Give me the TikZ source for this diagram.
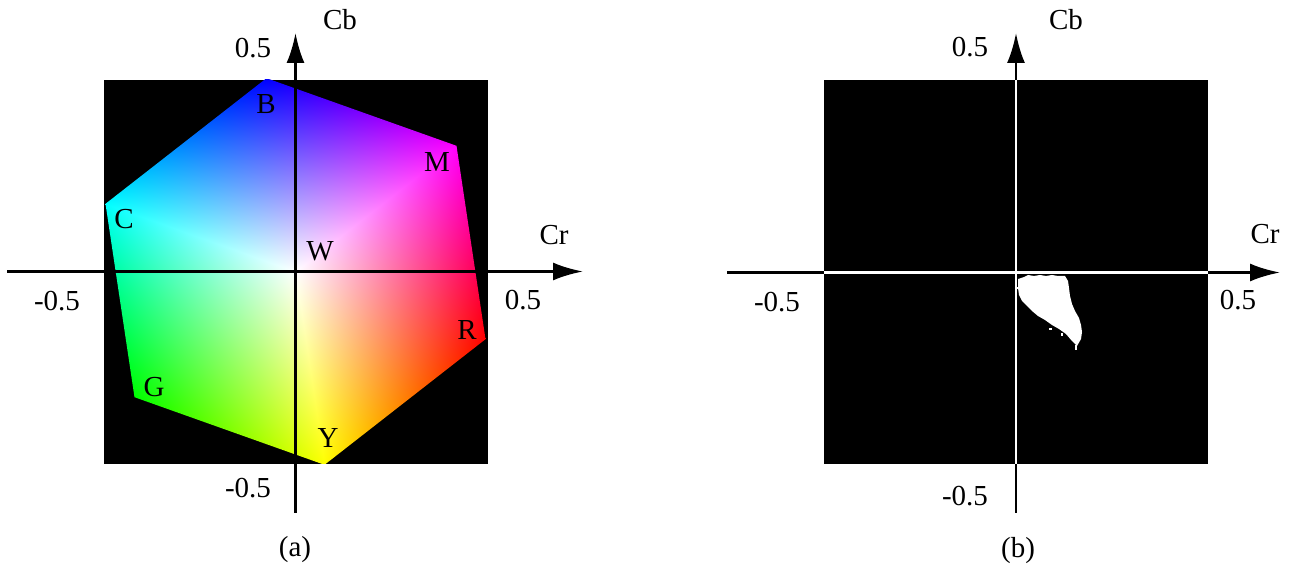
\documentclass[tikz,border=0pt]{standalone}
\usepackage{fontspec}
\setmainfont{Liberation Serif}
\usetikzlibrary{arrows.meta}
% colour of the cube surface seen from the white corner, r=1+min(0,u,v), g=r-v, b=r-u
\pgfdeclarefunctionalshading{cubehex}{\pgfpoint{-50bp}{-50bp}}{\pgfpoint{50bp}{50bp}}{}{
  2 copy 0.0064496 mul exch 0.042256 mul add
  3 1 roll -0.035806 mul exch 0.027478 mul add
  2 copy 2 copy gt {exch} if pop
  dup 0 gt {pop 0} if 1 add
  dup 3 -1 roll sub
  3 1 roll dup 3 -1 roll sub
  exch 3 1 roll exch
}
\tikzstyle{axis} = [draw, line width=1.4pt, -{Latex[length=15pt, width=9pt]}]
\tikzstyle{whiteaxis} = [draw=white, line width=1.4pt]
\tikzstyle{lbl} = [font=\fontsize{14.5}{17}\selectfont, inner sep=0pt]

\begin{document}
\begin{tikzpicture}[x=0.5pt, y=-0.5pt]
        \useasboundingbox (0,0) rectangle (1291,571);

        % (a) projected colour cube
        \fill [black] (104,80) rectangle (488,464);
        \coordinate (W) at (295.5,271.5);
        \coordinate (B) at (266.5,78.2);
        \coordinate (M) at (456.5,145.8);
        \coordinate (R) at (485.5,339.2);
        \coordinate (Y) at (324.5,464.8);
        \coordinate (G) at (134.5,397.2);
        \coordinate (C) at (105.5,203.8);
        \begin{scope}
            \clip (104,80) rectangle (488,464);
            \path [shading=cubehex] (B) -- (M) -- (R) -- (Y) -- (G) -- (C) -- cycle;
        \end{scope}

        \coordinate (crA0) at (7,271.5);
        \coordinate (crA1) at (583,271.5);
        \coordinate (cbA0) at (295.5,513);
        \coordinate (cbA1) at (295.5,33);
        \path [axis] (crA0) -- (crA1);
        \path [axis] (cbA0) -- (cbA1);

        \node [lbl] (cbLabA) at (340,20) {Cb};
        \node [lbl] (crLabA) at (554,235) {Cr};
        \node [lbl] (topA) at (253,48) {0.5};
        \node [lbl] (botA) at (248,488) {-0.5};
        \node [lbl] (leftA) at (57,301) {-0.5};
        \node [lbl] (rightA) at (523,300) {0.5};
        \node [lbl] (vB) at (266,104) {B};
        \node [lbl] (vM) at (437,162) {M};
        \node [lbl] (vC) at (124,219) {C};
        \node [lbl] (vW) at (320,251) {W};
        \node [lbl] (vR) at (467,330) {R};
        \node [lbl] (vG) at (154,387) {G};
        \node [lbl] (vY) at (328,438) {Y};
        \node [lbl] (capA) at (295,550) {(a)};

        % (b) skin region
        \fill [black] (824,80) rectangle (1208,464);
        \coordinate (crB0) at (727,272.5);
        \coordinate (crB1) at (1280,272.5);
        \coordinate (cbB0) at (1016,513);
        \coordinate (cbB1) at (1016,33);
        \path [axis] (crB0) -- (crB1);
        \path [axis] (cbB0) -- (cbB1);
        \coordinate (sqL) at (824,272.5);
        \coordinate (sqR) at (1208,272.5);
        \coordinate (sqT) at (1016,80);
        \coordinate (sqB) at (1016,464);
        \path [whiteaxis] (sqL) -- (sqR);
        \path [whiteaxis] (sqT) -- (sqB);
        \fill [white] (1018,279) -- (1024,277) -- (1028,275) -- (1034,276) -- (1040,275) -- (1046,276)
            -- (1052,275) -- (1058,276) -- (1065,276) -- (1068,281) -- (1069,288) -- (1070,296)
            -- (1072,304) -- (1075,311) -- (1079,318) -- (1081,325) -- (1082,332) -- (1081,339)
            -- (1077,346) -- (1072,341) -- (1066,334) -- (1059,329) -- (1052,325) -- (1045,320)
            -- (1038,316) -- (1032,311) -- (1027,306) -- (1022,301) -- (1019,295) -- (1018,288)
            -- cycle;
        \fill [white] (1075,345) rectangle (1077,350);
        \fill [white] (1049,328) rectangle (1052,330);
        \fill [white] (1061,333) rectangle (1063,336);
        \fill [white] (1016,287) rectangle (1019,289);

        \node [lbl] (cbLabB) at (1066,20) {Cb};
        \node [lbl] (crLabB) at (1265,234) {Cr};
        \node [lbl] (topB) at (970,47) {0.5};
        \node [lbl] (botB) at (965,496) {-0.5};
        \node [lbl] (leftB) at (777,302) {-0.5};
        \node [lbl] (rightB) at (1238,300) {0.5};
        \node [lbl] (capB) at (1018,551) {(b)};
    \end{tikzpicture}
\end{document}
